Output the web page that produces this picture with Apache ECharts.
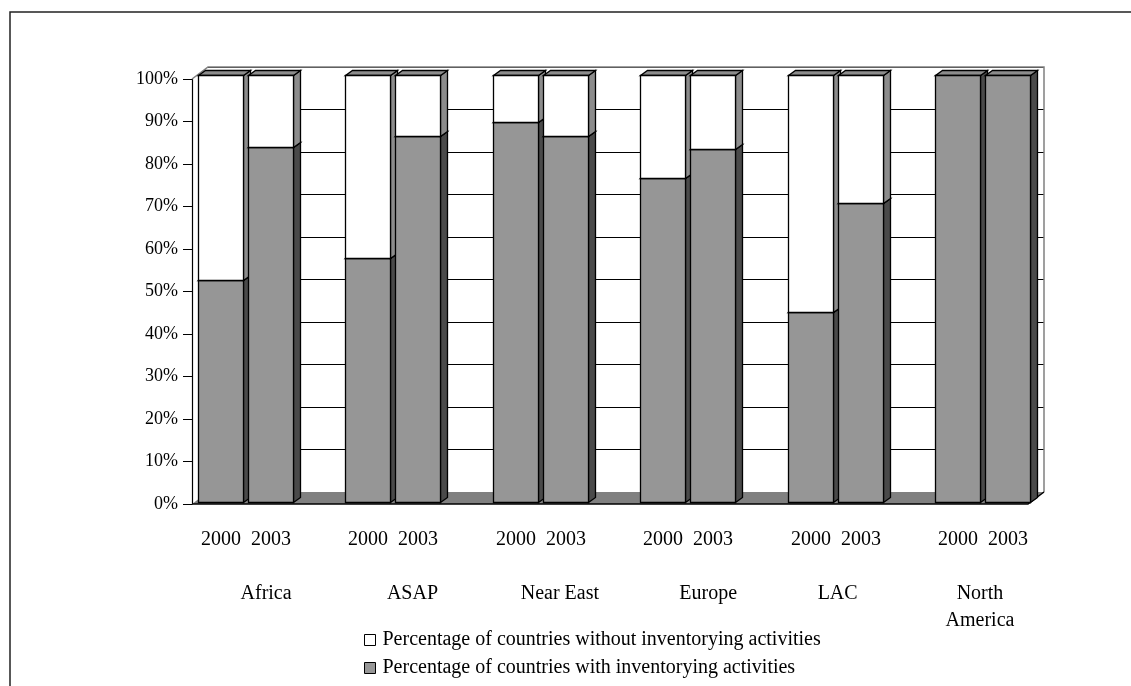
<!DOCTYPE html>
<html>
<head>
<meta charset="utf-8">
<script src="https://cdn.jsdelivr.net/npm/echarts@6/dist/echarts.min.js"></script>
<style>
  html, body { margin: 0; padding: 0; background: #fff; }
  #chart { width: 1131px; height: 686px; }
</style>
</head>
<body>
<div id="chart"></div>
<script>
// Regions and survey years
const regions = ['Africa', 'ASAP', 'Near East', 'Europe', 'LAC', 'North America'];
const years = ['2000', '2003'];

// Share of countries (%) with / without inventorying activities
const with2000 = [52.1, 57.1, 89.1, 75.8, 44.4, 100];
const without2000 = [47.9, 42.9, 10.9, 24.2, 55.6, 0];
const with2003 = [83.1, 85.7, 85.8, 82.6, 70.0, 100];
const without2003 = [16.9, 14.3, 14.2, 17.4, 30.0, 0];

const NAME_WITHOUT = 'Percentage of countries without inventorying activities';
const NAME_WITH = 'Percentage of countries with inventorying activities';

// Horizontal nudge (px) of each region label under its pair of columns
const labelShift = [20, 19, 19, 20, 2, -3];

const FONT = '"Liberation Serif", "Times New Roman", serif';
const DX = 7, DY = 5;                 // extrusion of the columns
const BAR_FRAC = 45 / 147.4;          // column width as part of a category band
const SLOT = [-48 / 147.4, 2 / 147.4]; // left edge of each year's column from band centre

const COLORS = {
  with: { front: '#969696', side: '#4a4a4a', top: '#8c8c8c' },
  without: { front: '#ffffff', side: '#8c8c8c', top: '#8c8c8c' }
};

function columnRenderer(yearIdx, faces, withYearLabel) {
  return function (params, api) {
    const cat = api.value(0);
    const lo = api.value(1);
    const hi = api.value(2);
    const band = api.size([1, 0])[0];
    const centre = api.coord([cat, 0]);
    const w = Math.round(band * BAR_FRAC);
    const x0 = Math.round(centre[0] + band * SLOT[yearIdx]) + 0.5;
    const x1 = x0 + w;
    const yBase = Math.round(api.coord([cat, lo])[1]) + 0.5;
    const yTop = Math.round(api.coord([cat, hi])[1]) + 0.5;
    const children = [];
    const edge = { stroke: '#000', lineWidth: 1.3, lineJoin: 'miter' };
    if (hi - lo > 0) {
      children.push({
        type: 'polygon',
        shape: { points: [[x1, yBase], [x1 + DX, yBase - DY], [x1 + DX, yTop - DY], [x1, yTop]] },
        style: Object.assign({ fill: faces.side }, edge)
      });
      children.push({
        type: 'polygon',
        shape: { points: [[x0, yTop], [x0 + DX, yTop - DY], [x1 + DX, yTop - DY], [x1, yTop]] },
        style: Object.assign({ fill: faces.top }, edge)
      });
      children.push({
        type: 'rect',
        shape: { x: x0, y: yTop, width: w, height: yBase - yTop },
        style: Object.assign({ fill: faces.front }, edge)
      });
    }
    if (withYearLabel) {
      children.push({
        type: 'text',
        x: x0 + w / 2,
        y: centre[1] + 38,
        style: {
          text: years[yearIdx],
          fontFamily: FONT,
          fontSize: 20,
          fill: '#000',
          align: 'center',
          verticalAlign: 'middle'
        }
      });
    }
    return { type: 'group', children: children };
  };
}

function stackedData(lower, upper) {
  return regions.map((r, i) => [i, lower ? lower[i] : 0, (lower ? lower[i] : 0) + upper[i]]);
}

function columnSeries(name, yearIdx, faces, lower, upper, withYearLabel, z) {
  return {
    type: 'custom',
    name: name,
    xAxisIndex: 2,
    yAxisIndex: 2,
    clip: false,
    z: z,
    itemStyle: { color: faces.front, borderColor: '#000', borderWidth: 1 },
    encode: { x: 0, y: [1, 2] },
    data: stackedData(lower, upper),
    renderItem: columnRenderer(yearIdx, faces, withYearLabel)
  };
}

const rich = {};
labelShift.forEach((s, i) => {
  rich['s' + i] = {
    fontFamily: FONT,
    fontSize: 20,
    lineHeight: 27,
    color: '#000',
    padding: s >= 0 ? [0, 0, 0, 2 * s] : [0, -2 * s, 0, 0]
  };
});

const chart = echarts.init(document.getElementById('chart'), null, { renderer: 'canvas' });

chart.setOption({
  animation: false,
  backgroundColor: '#fff',
  textStyle: { fontFamily: FONT },
  grid: [
    { left: 192, right: 103, top: 79, bottom: 182 },   // front plane (value axis)
    { left: 208, right: 87, top: 67, bottom: 194 },    // back wall
    { left: 172.4, right: 74.3, top: 75, bottom: 184 } // columns
  ],
  xAxis: [
    { type: 'value', gridIndex: 0, min: 0, max: 1, show: false },
    { type: 'value', gridIndex: 1, min: 0, max: 1, show: false },
    {
      type: 'category',
      gridIndex: 2,
      data: regions,
      axisLine: { show: false },
      axisTick: { show: false },
      axisLabel: {
        margin: 78,
        interval: 0,
        formatter: (value, idx) => '{s' + idx + '|' + (value.length > 10 ? value.replace(' ', '\n') : value) + '}',
        rich: rich
      }
    }
  ],
  yAxis: [
    {
      type: 'value',
      gridIndex: 0,
      min: 0,
      max: 100,
      interval: 10,
      axisLine: { show: true, lineStyle: { color: '#000', width: 1.2 } },
      axisTick: { show: true, length: 9, lineStyle: { color: '#000' } },
      axisLabel: { formatter: '{value}%', margin: 14, fontFamily: FONT, fontSize: 18, color: '#000' },
      splitLine: { show: false }
    },
    {
      type: 'value',
      gridIndex: 1,
      min: 0,
      max: 100,
      interval: 10,
      axisLine: { show: false },
      axisTick: { show: false },
      axisLabel: { show: false },
      splitLine: { show: true, lineStyle: { color: '#000', width: 1 } }
    },
    { type: 'value', gridIndex: 2, min: 0, max: 100, show: false }
  ],
  legend: {
    orient: 'vertical',
    left: 364,
    top: 629,
    padding: 0,
    icon: 'rect',
    itemWidth: 11,
    itemHeight: 11,
    itemGap: 6,
    selectedMode: false,
    itemStyle: { borderColor: '#000', borderWidth: 1 },
    textStyle: { fontFamily: FONT, fontSize: 20, lineHeight: 22, color: '#000', padding: [0, 0, 0, 2] },
    data: [
      { name: NAME_WITHOUT, itemStyle: { color: '#ffffff' } },
      { name: NAME_WITH, itemStyle: { color: '#969696' } }
    ]
  },
  series: [
    columnSeries(NAME_WITH, 0, COLORS.with, null, with2000, true, 3),
    columnSeries(NAME_WITHOUT, 0, COLORS.without, with2000, without2000, false, 4),
    columnSeries(NAME_WITH, 1, COLORS.with, null, with2003, true, 5),
    columnSeries(NAME_WITHOUT, 1, COLORS.without, with2003, without2003, false, 6)
  ]
});

// Floor, wall edges and the outer frame, placed from the two planes' scales
const front = (x, y) => chart.convertToPixel({ gridIndex: 0 }, [x, y]);
const back = (x, y) => chart.convertToPixel({ gridIndex: 1 }, [x, y]);
const fLB = front(0, 0), fRB = front(1, 0), fLT = front(0, 100);
const bLB = back(0, 0), bRB = back(1, 0), bLT = back(0, 100), bRT = back(1, 100);

chart.setOption({
  graphic: [
    {
      type: 'polygon',
      z: 1,
      shape: { points: [fLB, bLB, bRB, fRB] },
      style: { fill: '#808080', stroke: null }
    },
    {
      type: 'polyline',
      z: 2,
      shape: { points: [fLB, fRB, bRB] },
      style: { stroke: '#000', lineWidth: 1.5, fill: null }
    },
    {
      type: 'polyline',
      z: 1,
      shape: { points: [fLT, bLT, bRT, bRB] },
      style: { stroke: '#808080', lineWidth: 1.5, fill: null }
    },
    {
      type: 'rect',
      z: 0,
      shape: { x: 10, y: 12, width: 1400, height: 900 },
      style: { fill: null, stroke: '#222', lineWidth: 1.5 }
    }
  ]
});
</script>
</body>
</html>
